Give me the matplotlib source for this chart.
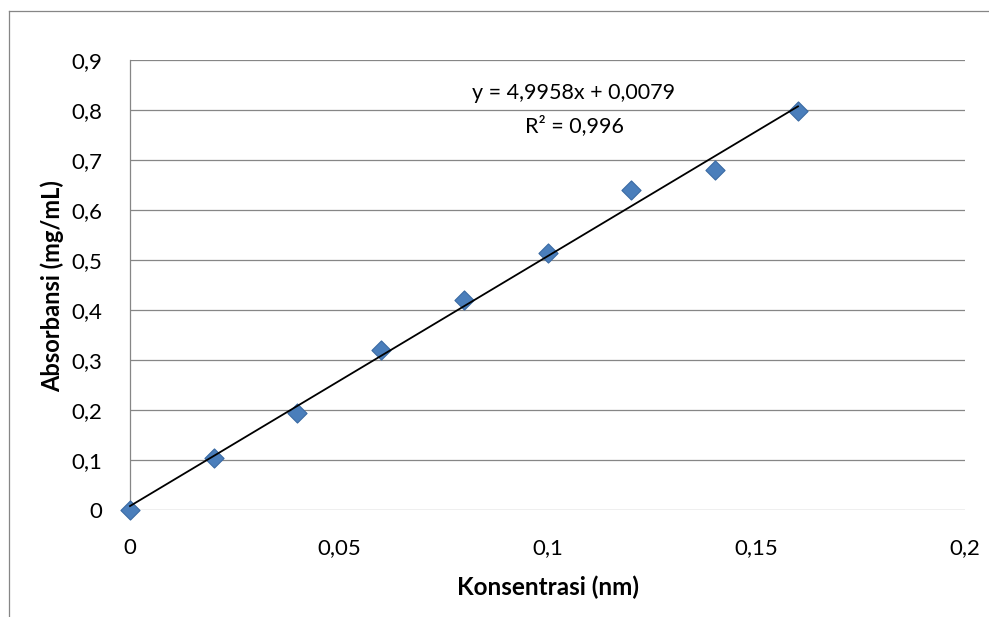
import matplotlib
matplotlib.use('Agg')
import matplotlib.pyplot as plt
from matplotlib.lines import Line2D
from matplotlib.ticker import FuncFormatter, MultipleLocator

# konsentrasi vs absorbansi (kurva standar)
konsentrasi = [0, 0.02, 0.04, 0.06, 0.08, 0.10, 0.12, 0.14, 0.16]
absorbansi = [0.000, 0.104, 0.194, 0.320, 0.420, 0.514, 0.640, 0.680, 0.798]
slope = 4.9958
intercept = 0.0079
r2 = 0.996

plt.rcParams['font.family'] = ['Lato', 'DejaVu Sans']
W, H = 989, 617
fig = plt.figure(figsize=(W / 100, H / 100), dpi=100)
ax = fig.add_axes([130 / W, 1 - 510 / H, 835 / W, 450 / H])

ax.scatter(konsentrasi, absorbansi, marker='D', s=95, color='#4A7EBB',
           edgecolors='#3A69A3', linewidths=0.8, zorder=3, clip_on=False)

x_fit = [konsentrasi[0], konsentrasi[-1]]
y_fit = [slope * x + intercept for x in x_fit]
ax.plot(x_fit, y_fit, color='black', lw=1.3, zorder=4, clip_on=False)

def koma(v, pos):
    return ('%g' % round(v, 3)).replace('.', ',')

ax.set_xlim(0, 0.2)
ax.set_ylim(0, 0.9)
ax.xaxis.set_major_locator(MultipleLocator(0.05))
ax.yaxis.set_major_locator(MultipleLocator(0.1))
ax.xaxis.set_major_formatter(FuncFormatter(koma))
ax.yaxis.set_major_formatter(FuncFormatter(koma))
ax.tick_params(axis='both', length=0, labelsize=16, colors='black')
ax.tick_params(axis='y', pad=20)
ax.tick_params(axis='x', pad=20)

ax.grid(axis='y', color='#868686', lw=0.9)
ax.set_axisbelow(True)
for s in ['top', 'right', 'bottom']:
    ax.spines[s].set_visible(False)
ax.spines['left'].set_color('#868686')
ax.spines['left'].set_linewidth(0.9)
ax.patch.set_alpha(0)

ax.set_xlabel('Konsentrasi (nm)', fontsize=17.5, fontweight='bold')
ax.set_ylabel('Absorbansi (mg/mL)', fontsize=17, fontweight='bold')
ax.xaxis.set_label_coords(0.5006, -0.171)
ax.yaxis.set_label_coords(-0.0934, 0.498)
ax.xaxis.label.set_va('center')
ax.yaxis.label.set_va('center')

eq = ('y = %s' % ('%.4f' % slope)).replace('.', ',') + 'x + ' + ('%.4f' % intercept).replace('.', ',')
ax.text(0.1063, 0.834, eq, fontsize=15.5, ha='center', va='center')
ax.text(0.1064, 0.768, 'R² = ' + ('%.3f' % r2).replace('.', ','), fontsize=15.5,
        ha='center', va='center')

# bingkai grafik
fig.add_artist(Line2D([9 / W, 9 / W], [0, 1 - 11 / H], transform=fig.transFigure,
                      color='#868686', lw=0.9))
fig.add_artist(Line2D([9 / W, 1], [1 - 11 / H, 1 - 11 / H], transform=fig.transFigure,
                      color='#868686', lw=0.9))

fig.savefig('out.png', dpi=100)
